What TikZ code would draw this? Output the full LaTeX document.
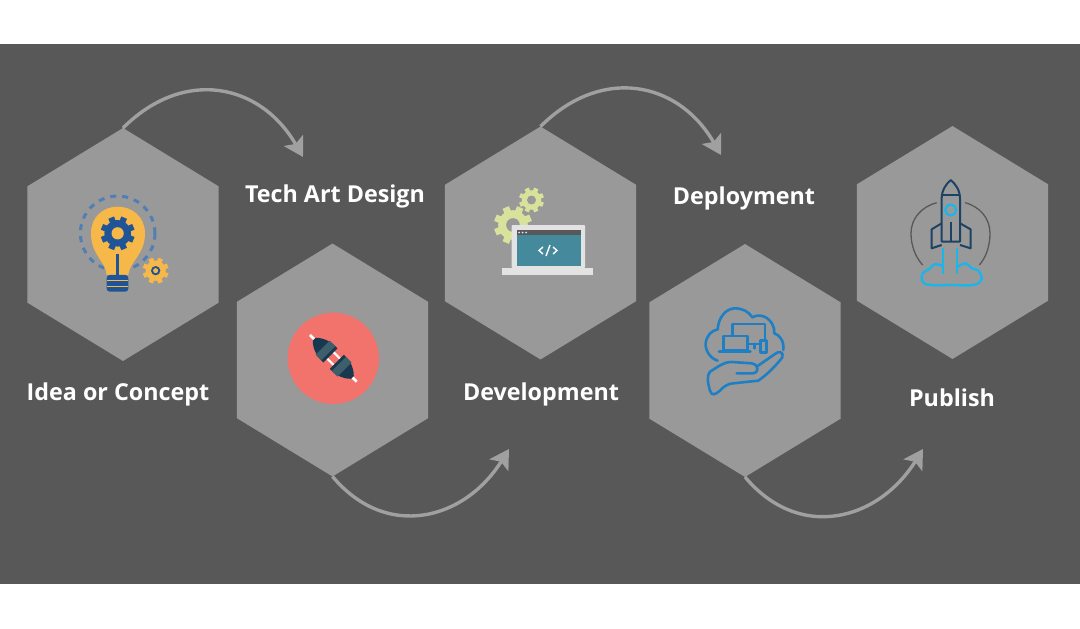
\documentclass[tikz,border=0pt]{standalone}
\usepackage{fontspec}
\setmainfont{Open Sans}
\usetikzlibrary{arrows.meta,shapes.geometric}
\definecolor{panelgrey}{HTML}{585858}
\definecolor{hexgrey}{HTML}{999999}
\definecolor{arrowgrey}{HTML}{A0A0A0}
\definecolor{bulbyellow}{HTML}{F7B84A}
\definecolor{gearblue}{HTML}{1F5596}
\definecolor{dashblue}{HTML}{4F7FB5}
\definecolor{plugred}{HTML}{F1736B}
\definecolor{plugdark}{HTML}{17384F}
\definecolor{plugband}{HTML}{3D5F6C}
\definecolor{gearpale}{HTML}{D9E29B}
\definecolor{framegrey}{HTML}{E3E3E3}
\definecolor{screenteal}{HTML}{45899C}
\definecolor{handblue}{HTML}{1F7FC4}
\definecolor{rocketblue}{HTML}{1E4263}
\definecolor{flamecyan}{HTML}{1CB5EA}
\newcommand{\gearicon}[5]{%
  \foreach \a in {0,45,...,315}
    \draw[#4,line width=#3*0.36pt] (#1,#2) ++(\a+22.5:#3*0.7pt) -- ++(\a+22.5:#3*0.3pt);
  \fill[#4] (#1,#2) circle[radius=#3*0.78pt];
  \fill[#5] (#1,#2) circle[radius=#3*0.36pt];
}
\begin{document}
\begin{tikzpicture}[x=1pt,y=-1pt,
    hexbox/.style={regular polygon,regular polygon sides=6,shape border rotate=-30,
      minimum size=220.6pt,inner sep=0pt,outer sep=0pt,fill=hexgrey,yscale=1.056,transform shape},
    steplabel/.style={text=white,font=\fontsize{23.3}{27}\selectfont\bfseries,inner sep=0pt},
    flowarrow/.style={draw=arrowgrey,line width=3.4pt,-{Stealth[length=19pt,width=22pt,inset=4pt]}}]
  \useasboundingbox (0,0) rectangle (1080,629);
  \node (panel) [fill=panelgrey,minimum width=1080pt,minimum height=540pt,inner sep=0pt] at (540,314) {};

  \node (idea hex) [hexbox] at (123,244.5) {};
  \node (tech hex) [hexbox] at (332.5,360) {};
  \node (dev hex) [hexbox] at (540.5,243) {};
  \node (deploy hex) [hexbox] at (745,360.5) {};
  \node (publish hex) [hexbox] at (952.5,242.5) {};

  \node (idea label) [steplabel] at (118,394) {Idea or Concept};
  \node (tech label) [steplabel] at (335,196) {Tech Art Design};
  \node (dev label) [steplabel] at (541,394) {Development};
  \node (deploy label) [steplabel] at (744,198) {Deployment};
  \node (publish label) [steplabel] at (952,398) {Publish};

  \coordinate (tip a) at (303,157);
  \coordinate (tip b) at (509,449);
  \coordinate (tip c) at (721,155);
  \coordinate (tip d) at (923,449);
  \draw[flowarrow] (idea hex.corner 2) to[out=45,in=120,looseness=1.2] (tip a);
  \draw[flowarrow] (tech hex.corner 5) to[out=-50,in=-122,looseness=1.2] (tip b);
  \draw[flowarrow] (dev hex.corner 2) to[out=45,in=120,looseness=1.2] (tip c);
  \draw[flowarrow] (deploy hex.corner 5) to[out=-50,in=-122,looseness=1.2] (tip d);

  % bulb
  \begin{scope}[shift={(60,180)},x=0.3333pt,y=-0.3333pt]
    \draw[dashblue,line width=3pt,dash pattern=on 6pt off 6pt] (173,160) circle[radius=37.3pt];
    \fill[bulbyellow] (140,285) .. controls (138,245) and (93,225) .. (93,160)
      .. controls (93,110) and (130,80) .. (173,80)
      .. controls (216,80) and (255,110) .. (255,160)
      .. controls (255,225) and (208,245) .. (205,285) -- cycle;
    \draw[gearblue,line width=3pt] (173,222) -- (173,290);
    \fill[gearblue,rounded corners=3pt] (140,285) rectangle (205,335);
    \draw[bulbyellow,line width=1pt] (142,303) -- (203,303) (142,319) -- (203,319);
    \gearicon{173}{160}{17}{gearblue}{bulbyellow}
    \gearicon{287}{272}{13}{bulbyellow}{gearblue}
    \fill[bulbyellow] (287,272) circle[radius=2.5pt];
  \end{scope}

  % plug
  \fill[plugred] (333.3,358.3) circle[radius=45.7pt];
  \begin{scope}[shift={(333.3,358.3)},rotate=-45]
    \draw[white,line width=2.5pt] (-33,0) -- (-24,0) (24,0) -- (33,0);
    \draw[white,line width=2pt] (-5,-4.5) -- (5,-4.5) (-5,4.5) -- (5,4.5);
    \fill[plugdark] (-27,-2) .. controls (-20,-9) and (-12,-10) .. (-4,-10) -- (-4,10)
      .. controls (-12,10) and (-20,9) .. (-27,2) -- cycle;
    \fill[plugdark] (27,-2) .. controls (20,-9) and (12,-10) .. (5,-10) -- (5,10)
      .. controls (12,10) and (20,9) .. (27,2) -- cycle;
    \fill[plugband] (-15,-10) rectangle (-7,10);
    \fill[plugband] (8,-10) rectangle (16,10);
  \end{scope}

  % laptop
  \gearicon{513}{225}{19}{gearpale}{hexgrey}
  \gearicon{531.5}{200}{12.5}{gearpale}{hexgrey}
  \fill[framegrey,rounded corners=1pt] (511.5,225) rectangle (585,268);
  \fill[framegrey] (502,268) rectangle (593,275);
  \fill[panelgrey] (516.5,230) rectangle (581,235);
  \fill[screenteal] (516.5,235) rectangle (581,266);
  \foreach \x in {519,522.5,526}
    \fill[framegrey] (\x,232.5) circle[radius=1pt];
  \draw[white,line width=1.4pt] (543,247) -- (539,250.5) -- (543,254)
    (553,247) -- (557,250.5) -- (553,254) (550,245) -- (546,256);

  % cloud and hand
  \begin{scope}[shift={(695,300)},x=0.3333pt,y=-0.3333pt,handblue,line width=2.6pt,line join=round,line cap=round]
    \draw (68,182) .. controls (45,175) and (30,150) .. (32,130) .. controls (35,105) and (50,92) .. (68,88)
      .. controls (70,55) and (90,27) .. (118,25) .. controls (145,25) and (160,35) .. (172,52)
      .. controls (200,35) and (240,60) .. (238,100) .. controls (255,105) and (268,125) .. (265,150);
    \draw (112,105) -- (112,72) -- (210,72) -- (210,122);
    \draw (85,108) rectangle (158,150);
    \draw[line width=2.8pt] (72,155) -- (166,155);
    \draw (197,122) rectangle (215,158);
    \draw (160,132) -- (195,132) (178,132) -- (178,145);
    \draw (125,220) -- (175,220) .. controls (190,220) and (195,195) .. (170,190) -- (110,186)
      .. controls (85,186) and (70,200) .. (45,215) .. controls (35,225) and (38,250) .. (45,272)
      .. controls (50,288) and (60,285) .. (75,272) .. controls (85,260) and (100,250) .. (115,250)
      -- (190,242) .. controls (215,225) and (245,195) .. (262,172)
      .. controls (268,155) and (250,152) .. (240,162) -- (185,200);
  \end{scope}

  % rocket
  \begin{scope}[shift={(900,170)},x=0.3333pt,y=-0.3333pt,line width=2pt,line join=round]
    \draw[panelgrey,line width=1.3pt] (110,98) .. controls (65,110) and (33,145) .. (33,190) .. controls (33,225) and (45,260) .. (68,285);
    \draw[panelgrey,line width=1.3pt] (195,98) .. controls (240,110) and (270,145) .. (270,190) .. controls (270,225) and (260,260) .. (238,285);
    \draw[rocketblue] (125,215) -- (125,85) .. controls (125,60) and (140,40) .. (152,30)
      .. controls (165,40) and (180,60) .. (180,85) -- (180,215) -- cycle;
    \draw[rocketblue] (125,75) -- (180,75);
    \draw[rocketblue] (125,160) -- (95,178) -- (95,235) -- (125,225);
    \draw[rocketblue] (180,160) -- (212,178) -- (212,235) -- (180,225);
    \draw[rocketblue] (152,155) -- (152,215);
    \draw[flamecyan,line width=2.2pt] (152,120) circle[radius=5.5pt];
    \draw[flamecyan,line width=2.2pt] (130,235) -- (130,312) (172,235) -- (172,312);
    \draw[flamecyan,line width=2.4pt] plot[smooth,tension=.6] coordinates {(130,290) (105,282) (88,297) (68,310) (68,335) (90,345) (150,345) (220,345) (245,328) (235,302) (215,295) (198,280) (172,290)};
  \end{scope}
\end{tikzpicture}
\end{document}
